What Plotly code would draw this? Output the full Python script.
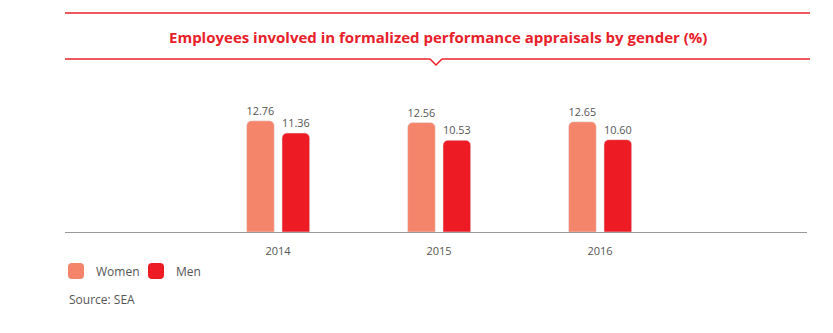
import plotly.graph_objects as go

years = [2014, 2015, 2016]
women = [12.76, 12.56, 12.65]
men = [11.36, 10.53, 10.60]
series_names = ["Women", "Men"]
title_text = "Employees involved in formalized performance appraisals by gender (%)"
source_text = "Source: SEA"

W, H = 833, 333
WOMEN_C = "#F4856A"
MEN_C = "#ED1C24"
RED = "#E8202A"
GREY = "#555555"
FONT = "Open Sans, Noto Sans, sans-serif"

def px(x):
    return x / W

def py(y):
    return 1 - y / H

fig = go.Figure()
fig.add_trace(go.Bar(x=years, y=women, name=series_names[0], marker_color=WOMEN_C,
                     width=0.172, offset=-0.195,
                     texttemplate="%{y:.2f}", textposition="outside",
                     textfont=dict(size=11, color=GREY, family=FONT), cliponaxis=False))
fig.add_trace(go.Bar(x=years, y=men, name=series_names[1], marker_color=MEN_C,
                     width=0.172, offset=0.025,
                     texttemplate="%{y:.2f}", textposition="outside",
                     textfont=dict(size=11, color=GREY, family=FONT), cliponaxis=False))

shapes = [
    dict(type="line", xref="paper", yref="paper", x0=px(65), x1=px(810), y0=py(13), y1=py(13),
         line=dict(color=RED, width=1.5)),
    dict(type="line", xref="paper", yref="paper", x0=px(65), x1=px(430), y0=py(59), y1=py(59),
         line=dict(color=RED, width=1.5)),
    dict(type="line", xref="paper", yref="paper", x0=px(442), x1=px(810), y0=py(59), y1=py(59),
         line=dict(color=RED, width=1.5)),
    dict(type="path", xref="paper", yref="paper",
         path=f"M {px(430)},{py(59)} L {px(436)},{py(65)} L {px(442)},{py(59)}",
         line=dict(color=RED, width=1.5)),
]

def rrect(x0, y0, x1, y1, r):
    pts = (f"M {px(x0+r)},{py(y0)} L {px(x1-r)},{py(y0)} "
           f"Q {px(x1)},{py(y0)} {px(x1)},{py(y0+r)} L {px(x1)},{py(y1-r)} "
           f"Q {px(x1)},{py(y1)} {px(x1-r)},{py(y1)} L {px(x0+r)},{py(y1)} "
           f"Q {px(x0)},{py(y1)} {px(x0)},{py(y1-r)} L {px(x0)},{py(y0+r)} "
           f"Q {px(x0)},{py(y0)} {px(x0+r)},{py(y0)} Z")
    return pts

for (x0, col) in [(68, WOMEN_C), (148, MEN_C)]:
    shapes.append(dict(type="path", xref="paper", yref="paper", path=rrect(x0, 263, x0 + 16, 279, 4),
                       fillcolor=col, line=dict(width=0)))

annotations = [
    dict(text=f"<b>{title_text}</b>", xref="paper", yref="paper", x=px(438), y=py(37),
         showarrow=False, font=dict(size=15, color=RED, family=FONT), xanchor="center", yanchor="middle"),
    dict(text=series_names[0], xref="paper", yref="paper", x=px(94), y=py(271), showarrow=False,
         font=dict(size=12, color=GREY, family=FONT), xanchor="left", yanchor="middle"),
    dict(text=series_names[1], xref="paper", yref="paper", x=px(174), y=py(271), showarrow=False,
         font=dict(size=12, color=GREY, family=FONT), xanchor="left", yanchor="middle"),
    dict(text=source_text, xref="paper", yref="paper", x=px(67), y=py(299), showarrow=False,
         font=dict(size=12, color=GREY, family=FONT), xanchor="left", yanchor="middle"),
]

fig.update_layout(
    width=W, height=H, autosize=False,
    margin=dict(l=0, r=0, t=0, b=0),
    paper_bgcolor="white", plot_bgcolor="white",
    showlegend=False,
    barcornerradius=5,
    shapes=shapes, annotations=annotations,
    font=dict(family=FONT, color=GREY),
    xaxis=dict(domain=[px(65), px(807)], range=[2012.677, 2017.286], tickvals=years,
               ticktext=[str(y) for y in years], showgrid=False, zeroline=False,
               showline=True, linecolor="#999999", linewidth=1, ticks="",
               ticklabelstandoff=9,
               tickfont=dict(size=11, color=GREY, family=FONT)),
    yaxis=dict(domain=[py(232), py(90)], range=[0, 16.3], visible=False, showgrid=False),
)

fig.write_html("out.html")
